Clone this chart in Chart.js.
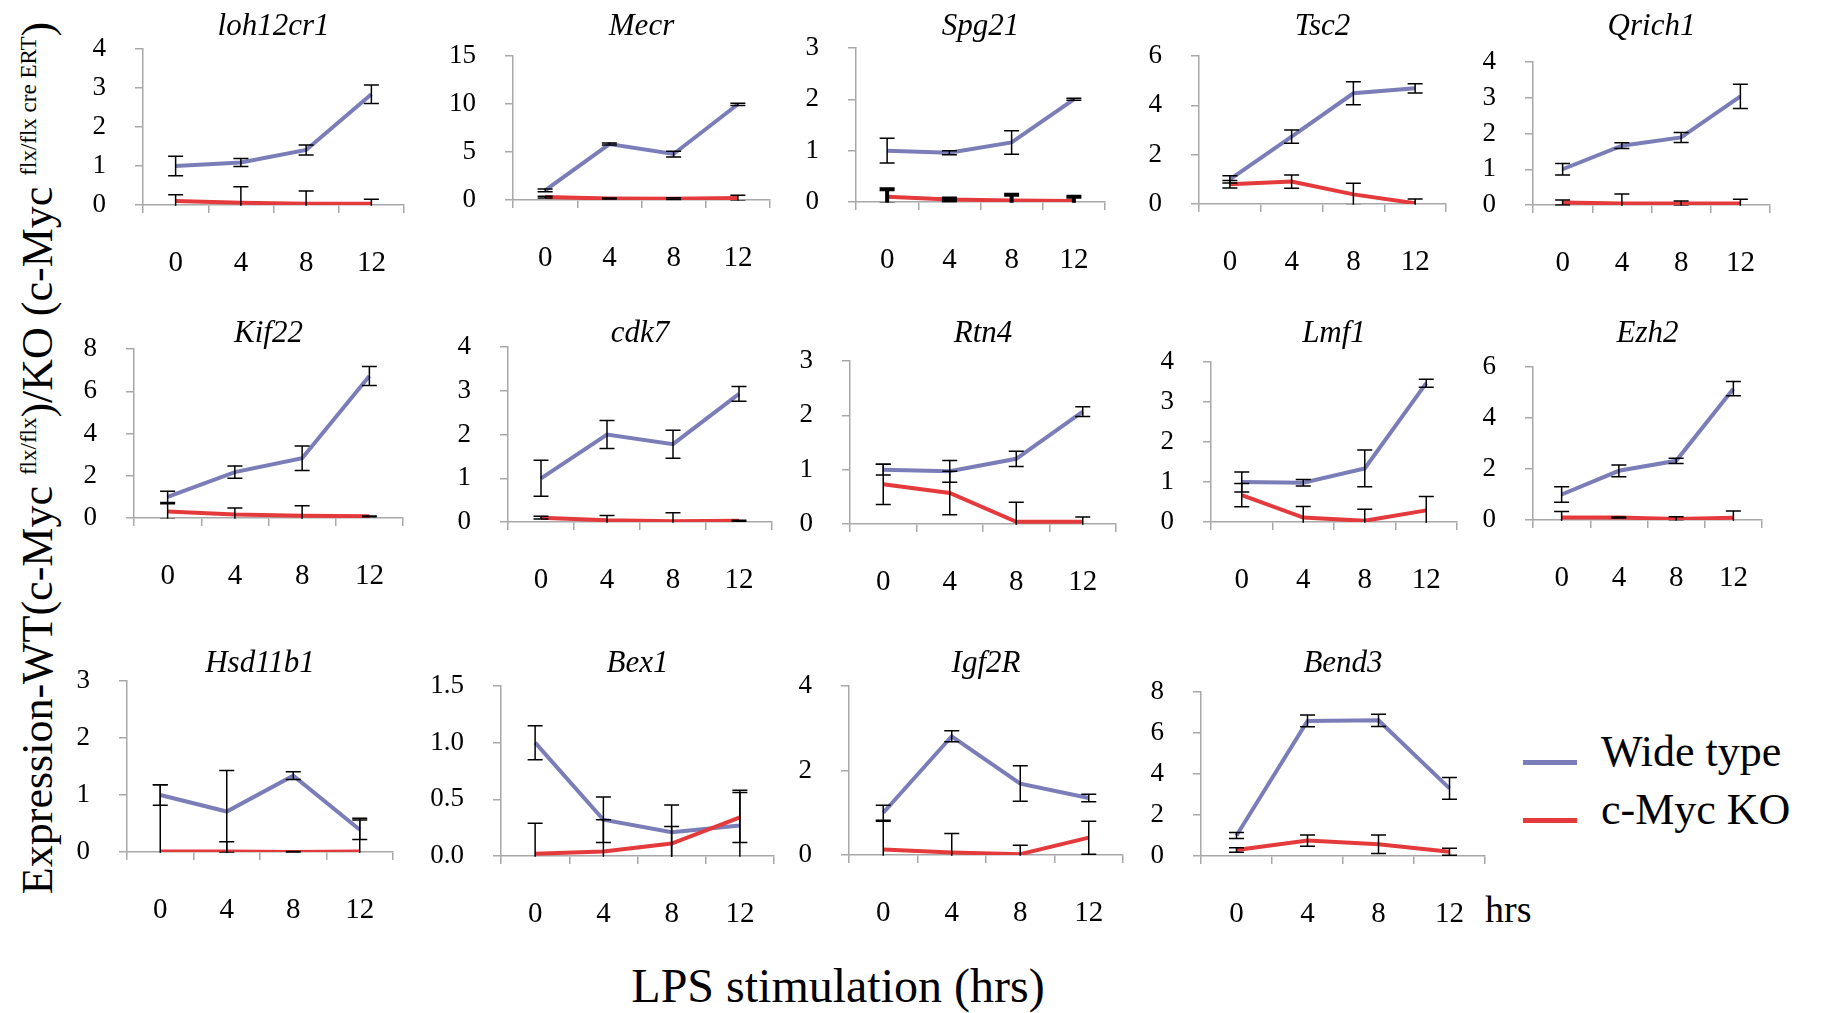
<!DOCTYPE html>
<html>
<head>
<meta charset="utf-8">
<title>Expression time course</title>
<script src="https://cdn.jsdelivr.net/npm/chart.js@4.4.1/dist/chart.umd.min.js"></script>
<style>
  html, body { margin: 0; padding: 0; background: #fff; }
  body { width: 1823px; height: 1013px; position: relative; overflow: hidden;
         font-family: "Liberation Serif", "Times New Roman", serif; color: #000; }
  canvas { position: absolute; }
  #ytitle { position: absolute; left: -412px; top: 436px; width: 900px; height: 44px;
            line-height: 44px; font-size: 44px; text-align: center; white-space: nowrap;
            transform: rotate(-90deg); transform-origin: 50% 50%; }
  #ytitle .sup { font-size: 23px; position: relative; top: -16px; }
  #xtitle { position: absolute; left: 238px; width: 1200px; top: 962px; font-size: 48px;
            line-height: 48px; text-align: center; white-space: nowrap; }
  #unit { position: absolute; left: 1485px; top: 890px; font-size: 38px; line-height: 38px; }
  .legend-row { position: absolute; left: 1523px; height: 44px; font-size: 44px; line-height: 44px; white-space: nowrap; }
  .legend-row .swatch { position: absolute; left: 0; top: 30px; width: 54px; height: 4.5px; }
  .legend-row .label { position: absolute; left: 78px; top: 0; }
</style>
</head>
<body>
<div id="ytitle">Expression-WT(c-Myc <span class="sup">flx/flx</span>)/KO (c-Myc <span class="sup">flx/flx cre ERT</span>)</div>
<div id="xtitle">LPS stimulation (hrs)</div>
<div id="unit">hrs</div>
<div id="legend"></div>
<script>
// ---- data ----
const HOURS = ['0', '4', '8', '12'];
const SERIES_NAMES = ['Wide type', 'c-Myc KO'];
const GENES = ['loh12cr1', 'Mecr', 'Spg21', 'Tsc2', 'Qrich1',
               'Kif22', 'cdk7', 'Rtn4', 'Lmf1', 'Ezh2',
               'Hsd11b1', 'Bex1', 'Igf2R', 'Bend3'];

// y-axis range and tick step for each gene
const Y_MAX  = [4, 15, 3, 6, 4,   8, 4, 3, 4, 6,   3, 1.5, 4, 8];
const Y_STEP = [1, 5,  1, 2, 1,   2, 1, 1, 1, 2,   1, 0.5, 2, 2];

// wild type mean and error per gene (0, 4, 8, 12 h)
const WT_MEAN = [
  [1.00, 1.09, 1.41, 2.84],
  [1.00, 5.83, 4.79, 9.97],
  [1.00, 0.96, 1.16, 2.00],
  [1.00, 2.73, 4.49, 4.69],
  [1.00, 1.66, 1.89, 3.04],
  [1.00, 2.17, 2.83, 6.72],
  [1.00, 2.00, 1.78, 2.93],
  [1.00, 0.97, 1.20, 2.07],
  [1.00, 0.98, 1.34, 3.47],
  [1.00, 1.93, 2.32, 5.15],
  [1.00, 0.71, 1.34, 0.39],
  [1.00, 0.32, 0.21, 0.27],
  [1.00, 2.81, 1.69, 1.35],
  [1.00, 6.59, 6.62, 3.30]
];
const WT_ERR = [
  [0.25, 0.10, 0.13, 0.24],
  [0.15, 0.10, 0.30, 0.12],
  [0.24, 0.04, 0.23, 0.02],
  [0.15, 0.27, 0.47, 0.19],
  [0.16, 0.08, 0.14, 0.34],
  [0.27, 0.29, 0.58, 0.45],
  [0.41, 0.32, 0.32, 0.17],
  [0.10, 0.20, 0.14, 0.09],
  [0.25, 0.08, 0.46, 0.10],
  [0.30, 0.23, 0.10, 0.28],
  [0.18, 0.72, 0.07, 0.17],
  [0.15, 0.20, 0.24, 0.31],
  [0.18, 0.13, 0.42, 0.09],
  [0.15, 0.29, 0.30, 0.53]
];

// c-Myc KO mean and error per gene
const KO_MEAN = [
  [0.10, 0.06, 0.03, 0.03],
  [0.30, 0.15, 0.14, 0.20],
  [0.10, 0.05, 0.03, 0.02],
  [0.80, 0.91, 0.39, 0.03],
  [0.07, 0.04, 0.04, 0.04],
  [0.31, 0.16, 0.11, 0.08],
  [0.10, 0.04, 0.02, 0.03],
  [0.73, 0.57, 0.04, 0.04],
  [0.67, 0.11, 0.03, 0.29],
  [0.10, 0.10, 0.04, 0.09],
  [0.01, 0.01, 0.00, 0.01],
  [0.02, 0.04, 0.11, 0.34],
  [0.13, 0.06, 0.02, 0.41],
  [0.29, 0.75, 0.57, 0.21]
];
const KO_ERR = [
  [0.16, 0.41, 0.33, 0.12],
  [0.10, 0.05, 0.10, 0.30],
  [0.15, 0.02, 0.11, 0.08],
  [0.15, 0.27, 0.45, 0.17],
  [0.07, 0.27, 0.07, 0.12],
  [0.37, 0.31, 0.47, 0.02],
  [0.03, 0.11, 0.19, 0.01],
  [0.37, 0.40, 0.36, 0.09],
  [0.29, 0.28, 0.29, 0.35],
  [0.23, 0.02, 0.09, 0.26],
  [1.17, 0.17, 0.01, 0.58],
  [0.27, 0.28, 0.15, 0.22],
  [0.67, 0.45, 0.21, 0.39],
  [0.11, 0.27, 0.45, 0.17]
];

// ---- layout (page pixels) ----
// plot area of each panel: [left, top, right, bottom]
const PLOT_BOX = [
  [143, 49, 404, 205], [513, 56, 770, 200], [856, 48, 1105, 202], [1199, 56, 1446, 204], [1533, 62, 1770, 205],
  [134, 349, 403, 518], [508, 347, 772, 522], [850, 361, 1116, 524], [1211, 362, 1457, 522], [1533, 367, 1762, 520],
  [127, 681, 393, 852], [501, 686, 774, 856], [849, 686, 1123, 855], [1201, 692, 1485, 856]
];
const ROW_TITLE_Y = [27, 334, 664];
const LEGEND_LINE_Y = [762, 820];

const Y_AXIS_W = 80, X_AXIS_H = 90, RIGHT_PAD = 8;
const TITLE_SIZE = 31, TITLE_LH = 0.85, TITLE_PAD_TOP = 4;

const WT_COLOR = '#7b7db8';
const KO_COLOR = '#e53a3c';
const AXIS_COLOR = '#a8a8a8';
const SERIF = '"Liberation Serif", "Times New Roman", serif';
// error bars drawn heavier for these panels' KO series
const HEAVY_KO_BARS = ['Spg21'];

Chart.defaults.font.family = SERIF;
Chart.defaults.color = '#000';

// vertical error bars with caps, drawn on top of the lines and clipped to the plot area
const errorBars = {
  id: 'errorBars',
  afterDatasetsDraw(chart, args, opts) {
    const { ctx, chartArea, scales } = chart;
    const y = scales.y;
    ctx.save();
    ctx.beginPath();
    ctx.rect(chartArea.left - 20, chartArea.top - 30, chartArea.width + 40, chartArea.height + 30.75);
    ctx.clip();
    ctx.strokeStyle = opts.color;
    chart.data.datasets.forEach((ds, di) => {
      if (!ds.errors || !chart.isDatasetVisible(di)) return;
      ctx.lineWidth = ds.errorBarWidth || opts.width;
      chart.getDatasetMeta(di).data.forEach((pt, i) => {
        const v = ds.data[i], e = ds.errors[i];
        const yHi = y.getPixelForValue(v + e);
        const yLo = y.getPixelForValue(v - e);
        const x = pt.x, h = opts.cap / 2;
        ctx.beginPath();
        ctx.moveTo(x, yHi); ctx.lineTo(x, yLo);
        ctx.moveTo(x - h, yHi); ctx.lineTo(x + h, yHi);
        ctx.moveTo(x - h, yLo); ctx.lineTo(x + h, yLo);
        ctx.stroke();
      });
    });
    ctx.restore();
  }
};

// fixed axis boxes: the tick padding only spaces the labels from the axis,
// it must not push the plot area inwards
function fixXAxis(scale) {
  scale.height = X_AXIS_H;
  scale.paddingLeft = 0; scale.paddingRight = 0;
}
function fixYAxis(scale) {
  scale.width = Y_AXIS_W;
  scale.paddingTop = 0; scale.paddingBottom = 0;
}

const charts = [];

function buildPanels() {
  GENES.forEach((gene, i) => {
    const [L, T, R, B] = PLOT_BOX[i];
    const row = i < 5 ? 0 : (i < 10 ? 1 : 2);
    const titleY = ROW_TITLE_Y[row];
    const lineH = TITLE_SIZE * TITLE_LH;
    const canvasTop = Math.round(titleY - TITLE_PAD_TOP - lineH / 2);
    const canvasLeft = L - Y_AXIS_W;
    const width = R - L + Y_AXIS_W + RIGHT_PAD;
    const height = B - canvasTop + X_AXIS_H;
    const padTop = titleY - lineH / 2 - canvasTop;
    const padBottom = Math.max(0, (T - canvasTop) - padTop - lineH);

    const canvas = document.createElement('canvas');
    canvas.width = width; canvas.height = height;
    canvas.style.left = canvasLeft + 'px';
    canvas.style.top = canvasTop + 'px';
    canvas.style.width = width + 'px';
    canvas.style.height = height + 'px';
    document.body.appendChild(canvas);

    const decimals = Y_STEP[i] < 1 ? 1 : 0;

    charts.push(new Chart(canvas, {
      type: 'line',
      data: {
        labels: HOURS,
        datasets: [
          { label: SERIES_NAMES[0], data: WT_MEAN[i], errors: WT_ERR[i],
            borderColor: WT_COLOR, backgroundColor: WT_COLOR, borderWidth: 4,
            pointRadius: 0, tension: 0, order: 1 },
          { label: SERIES_NAMES[1], data: KO_MEAN[i], errors: KO_ERR[i],
            errorBarWidth: HEAVY_KO_BARS.includes(gene) ? 4 : 0,
            borderColor: KO_COLOR, backgroundColor: KO_COLOR, borderWidth: 4,
            pointRadius: 0, tension: 0, order: 0 }
        ]
      },
      options: {
        responsive: false,
        animation: false,
        events: [],
        layout: { padding: { left: 0, right: RIGHT_PAD, top: 0, bottom: 0 } },
        plugins: {
          legend: { display: false },
          tooltip: { enabled: false },
          title: {
            display: true, text: gene, fullSize: false, color: '#000',
            font: { family: SERIF, size: TITLE_SIZE, style: 'italic', weight: 'normal', lineHeight: TITLE_LH },
            padding: { top: padTop, bottom: padBottom }
          },
          errorBars: { color: '#000', width: 1.5, cap: 15 }
        },
        scales: {
          x: {
            type: 'category', offset: true,
            grid: { offset: true, drawOnChartArea: false, drawTicks: true, tickLength: 8,
                    color: AXIS_COLOR, lineWidth: 1.5 },
            border: { display: true, color: AXIS_COLOR, width: 1.5 },
            ticks: { font: { family: SERIF, size: 29 }, padding: 33, maxRotation: 0, autoSkip: false, color: '#000' },
            afterFit: fixXAxis
          },
          y: {
            min: 0, max: Y_MAX[i],
            grid: { drawOnChartArea: false, drawTicks: true, tickLength: 8,
                    color: AXIS_COLOR, lineWidth: 1.5 },
            border: { display: true, color: AXIS_COLOR, width: 1.5 },
            ticks: { stepSize: Y_STEP[i], font: { family: SERIF, size: 27 }, padding: 29, color: '#000',
                     callback: v => Number(v).toFixed(decimals) },
            afterFit: fixYAxis
          }
        }
      },
      plugins: [errorBars]
    }));
  });

  // shared legend built from the series of the last panel
  const chart = charts[charts.length - 1];
  const items = Chart.defaults.plugins.legend.labels.generateLabels(chart)
    .sort((a, b) => a.datasetIndex - b.datasetIndex);
  const host = document.getElementById('legend');
  items.forEach((item, k) => {
    const rowEl = document.createElement('div');
    rowEl.className = 'legend-row';
    rowEl.style.top = (LEGEND_LINE_Y[k] - 32) + 'px';
    const sw = document.createElement('span');
    sw.className = 'swatch';
    sw.style.background = item.strokeStyle;
    const lab = document.createElement('span');
    lab.className = 'label';
    lab.textContent = item.text;
    rowEl.appendChild(sw);
    rowEl.appendChild(lab);
    host.appendChild(rowEl);
  });
}

// draw once the serif face is ready so the canvas text uses it
Promise.all([
  document.fonts.load('28px "Liberation Serif"'),
  document.fonts.load('italic 29px "Liberation Serif"')
]).catch(() => {}).then(buildPanels);
</script>
</body>
</html>
